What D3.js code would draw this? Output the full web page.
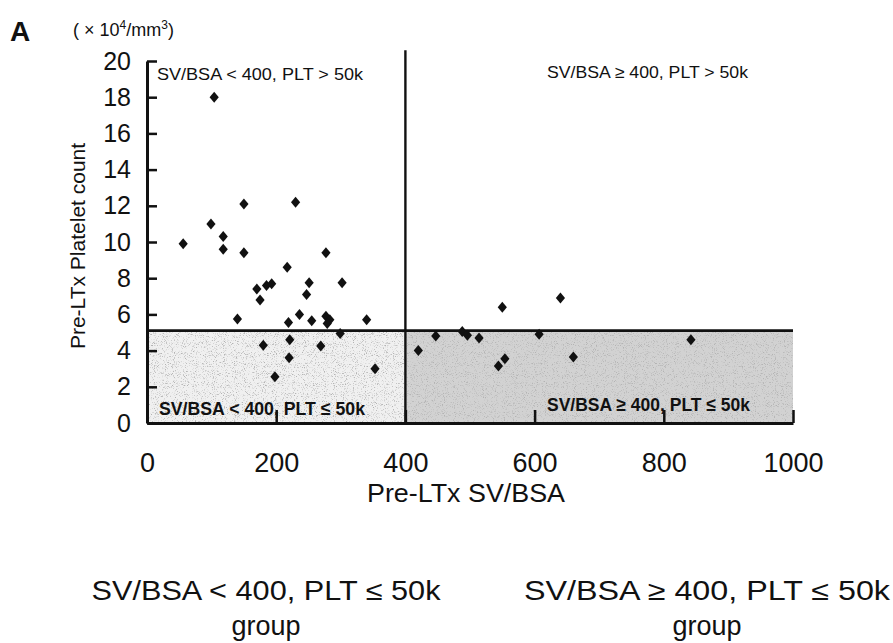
<!DOCTYPE html>
<html>
<head>
<meta charset="utf-8">
<script src="https://cdn.jsdelivr.net/npm/d3@7"></script>
<style>
  body { margin: 0; background: #fff; }
  svg { display: block; }
  text { fill: #111; }
</style>
</head>
<body>
<svg width="893" height="643"></svg>
<script>
// SV/BSA < 400 group
var svBsaLow = [104, 56, 99, 118, 118, 150, 150, 230, 217, 277, 170, 185, 193, 251, 302, 247, 175,
  140, 219, 236, 255, 277, 283, 279, 340, 299, 221, 180, 269, 220, 353, 198];
var pltLow = [18.0, 9.9, 11.0, 10.3, 9.6, 12.1, 9.4, 12.2, 8.6, 9.4, 7.4, 7.6, 7.7, 7.75, 7.75, 7.1, 6.8,
  5.75, 5.55, 6.0, 5.65, 5.9, 5.7, 5.5, 5.7, 4.95, 4.6, 4.3, 4.25, 3.6, 3.0, 2.55];
// SV/BSA >= 400 group
var svBsaHigh = [420, 447, 488, 496, 514, 550, 544, 554, 607, 640, 660, 842];
var pltHigh = [4.0, 4.8, 5.05, 4.85, 4.7, 6.4, 3.15, 3.55, 4.9, 6.9, 3.65, 4.6];

var xTicks = [0, 200, 400, 600, 800, 1000];
var yTicks = [0, 2, 4, 6, 8, 10, 12, 14, 16, 18, 20];
var svCut = 400, pltCut = 5.1;

var quadrantLabels = ["SV/BSA < 400, PLT > 50k", "SV/BSA \u2265 400, PLT > 50k",
  "SV/BSA < 400, PLT \u2264 50k", "SV/BSA \u2265 400, PLT \u2264 50k"];
var groupLabels = ["SV/BSA < 400, PLT \u2264 50k", "SV/BSA \u2265 400, PLT \u2264 50k"];

var svg = d3.select("svg");
var sans = "'Liberation Sans', Arial, sans-serif";
var narrow = "'Liberation Sans Narrow', 'Arial Narrow', 'Liberation Sans', sans-serif";

var x = d3.scaleLinear().domain([0, 1000]).range([147, 793]);
var y = d3.scaleLinear().domain([0, 20]).range([423, 61]);

// speckle texture like the scanned grey screen
var grain = svg.append("defs").append("filter").attr("id", "grain")
  .attr("x", 0).attr("y", 0).attr("width", 1).attr("height", 1);
grain.append("feTurbulence").attr("type", "fractalNoise").attr("baseFrequency", 1.1)
  .attr("numOctaves", 2).attr("seed", 7).attr("result", "n");
grain.append("feColorMatrix").attr("in", "n").attr("type", "matrix")
  .attr("values", "0 0 0 0 0.45  0 0 0 0 0.45  0 0 0 0 0.45  0 0 0 4 -2.2").attr("result", "s");
grain.append("feComposite").attr("in", "s").attr("in2", "SourceGraphic").attr("operator", "in");

// shaded low-platelet areas
var shade = [[0, svCut, "#f0f0f0"], [svCut, 1000, "#d2d2d2"]];
shade.forEach(function(s) {
  svg.append("rect")
    .attr("x", x(s[0])).attr("y", y(pltCut))
    .attr("width", x(s[1]) - x(s[0])).attr("height", y(0) - y(pltCut))
    .attr("fill", s[2]);
  svg.append("rect")
    .attr("x", x(s[0])).attr("y", y(pltCut))
    .attr("width", x(s[1]) - x(s[0])).attr("height", y(0) - y(pltCut))
    .attr("fill", "#000")
    .attr("filter", "url(#grain)");
});

// axes
var yAxis = svg.append("g")
  .attr("transform", "translate(" + x(0) + ",0)")
  .call(d3.axisLeft(y).tickValues(yTicks).tickSizeInner(-10).tickSizeOuter(0).tickPadding(16));
var xAxis = svg.append("g")
  .attr("transform", "translate(0," + y(0) + ")")
  .call(d3.axisBottom(x).tickValues(xTicks).tickFormat(d3.format("d"))
    .tickSizeInner(-13).tickSizeOuter(0).tickPadding(30));

[yAxis, xAxis].forEach(function(g) {
  g.select(".domain").attr("stroke", "#111").attr("stroke-width", 3);
  g.selectAll(".tick line").attr("stroke", "#111").attr("stroke-width", 2.5);
  g.selectAll(".tick text").style("font-family", sans).attr("fill", "#111");
});
yAxis.selectAll(".tick text").style("font-size", "25px");
xAxis.selectAll(".tick text").style("font-size", "27px");

// cut lines
svg.append("line")
  .attr("x1", x(svCut)).attr("x2", x(svCut))
  .attr("y1", y(20.6)).attr("y2", y(0))
  .attr("stroke", "#111").attr("stroke-width", 2.4);
svg.append("line")
  .attr("x1", x(0)).attr("x2", x(1000))
  .attr("y1", y(pltCut)).attr("y2", y(pltCut))
  .attr("stroke", "#111").attr("stroke-width", 2.8);

// points
var diamond = "M0,-5.5L4.6,0L0,5.5L-4.6,0Z";
var pts = svBsaLow.map(function(d, i) { return [d, pltLow[i]]; })
  .concat(svBsaHigh.map(function(d, i) { return [d, pltHigh[i]]; }));
svg.append("g").selectAll("path")
  .data(pts)
  .join("path")
  .attr("d", diamond)
  .attr("transform", function(d) { return "translate(" + x(d[0]) + "," + y(d[1]) + ")"; })
  .attr("fill", "#111");

// quadrant labels
var qPos = [[157, 80, 206, 17], [547, 78, 201, 17], [159, 415, 206, 19], [547, 411, 203, 19]];
svg.append("g").selectAll("text")
  .data(quadrantLabels)
  .join("text")
  .attr("x", function(d, i) { return qPos[i][0]; })
  .attr("y", function(d, i) { return qPos[i][1]; })
  .attr("textLength", function(d, i) { return qPos[i][2]; })
  .attr("lengthAdjust", "spacingAndGlyphs")
  .style("font-family", narrow)
  .style("font-size", function(d, i) { return qPos[i][3] + "px"; })
  .style("font-weight", function(d, i) { return i > 1 ? "bold" : "normal"; })
  .text(function(d) { return d; });

// axis titles
svg.append("text")
  .attr("x", 466).attr("y", 502)
  .attr("text-anchor", "middle")
  .attr("textLength", 198).attr("lengthAdjust", "spacingAndGlyphs")
  .style("font-family", sans).style("font-size", "26px")
  .text("Pre-LTx SV/BSA");
svg.append("text")
  .attr("transform", "translate(85,246) rotate(-90)")
  .attr("text-anchor", "middle")
  .style("font-family", sans).style("font-size", "21px")
  .text("Pre-LTx Platelet count");

// panel letter and unit
svg.append("text")
  .attr("x", 10).attr("y", 41)
  .style("font-family", sans).style("font-size", "28px").style("font-weight", "bold")
  .text("A");
var unit = svg.append("text")
  .attr("x", 73).attr("y", 36)
  .style("font-family", sans).style("font-size", "18px");
unit.append("tspan").text("( \u00d7 10");
unit.append("tspan").attr("dy", -7).style("font-size", "12px").text("4");
unit.append("tspan").attr("dy", 7).text("/mm");
unit.append("tspan").attr("dy", -7).style("font-size", "12px").text("3");
unit.append("tspan").attr("dy", 7).text(")");

// group captions under the chart
var gx = [266, 707], gw = [349, 366];
groupLabels.forEach(function(t, i) {
  svg.append("text")
    .attr("x", gx[i]).attr("y", 600)
    .attr("text-anchor", "middle")
    .attr("textLength", gw[i]).attr("lengthAdjust", "spacingAndGlyphs")
    .style("font-family", sans).style("font-size", "27px")
    .text(t);
  svg.append("text")
    .attr("x", gx[i]).attr("y", 635)
    .attr("text-anchor", "middle")
    .style("font-family", sans).style("font-size", "27px")
    .text("group");
});
</script>
</body>
</html>
